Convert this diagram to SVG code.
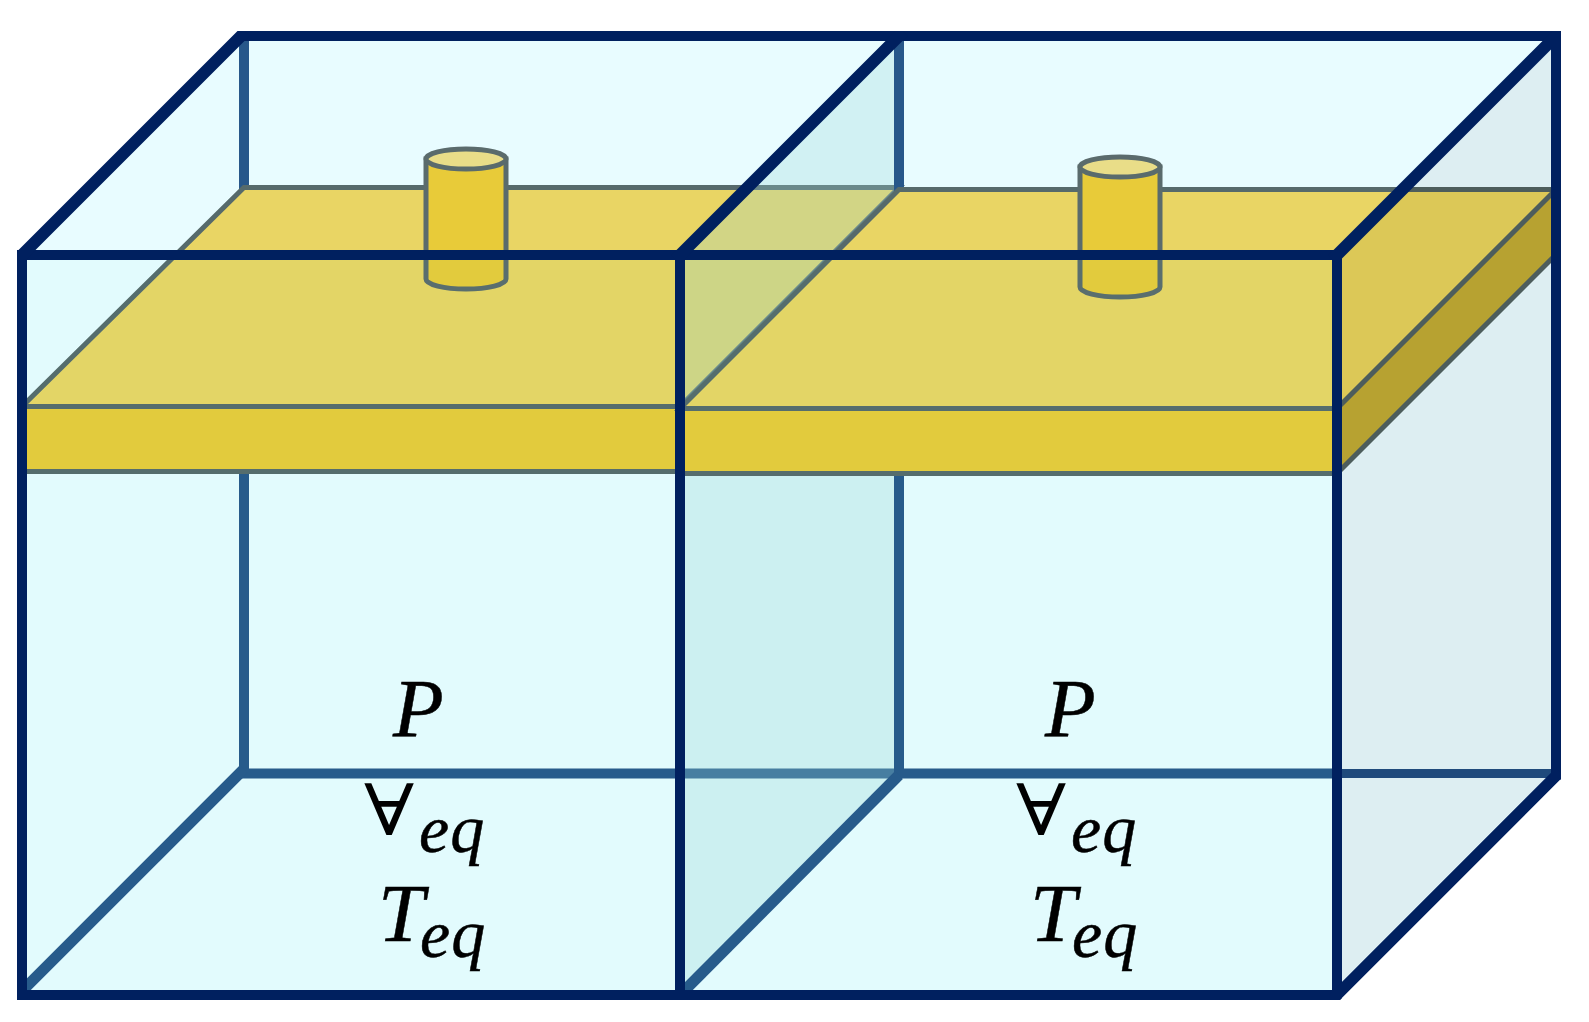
<svg xmlns="http://www.w3.org/2000/svg" width="1589" height="1022" viewBox="0 0 1589 1022">
<style>
.back{fill:none;stroke:#27578a;stroke-width:10;stroke-linejoin:miter}
.backd{fill:none;stroke:#27578a;stroke-width:11}
.frame{fill:none;stroke:#00205f;stroke-width:10;stroke-linejoin:miter}
.diag{fill:none;stroke:#00205f;stroke-width:12;stroke-linecap:square}
.plate{stroke:#566a6b;stroke-width:5;stroke-linejoin:miter}
.top{fill:#e9d564}
.front{fill:#e8cb39}
.cyl{fill:#e8cb39;stroke:#5a6b6c;stroke-width:5}
.cap{fill:#e9dd88;stroke:#5a6b6c;stroke-width:5}
text{fill:#000;stroke:#000;stroke-width:.5;font-family:"Liberation Serif","DejaVu Serif",serif}
.i{font-style:italic}
.m{font-size:83px}
.s{font-size:68px;letter-spacing:1px}
.u{font-size:71px;stroke-width:0}
</style>
<defs>
<clipPath id="tank"><polygon points="22,255 241,36 1556,36 1556,776 1337,995 22,995"/></clipPath>
<clipPath id="outer"><polygon points="17,250 236,31 1561,31 1561,779 1340,1000 17,1000"/></clipPath>
</defs>
<rect width="1589" height="1022" fill="#fff"/>
<g id="tank-fill">
<polygon points="22,255 241,36 1556,36 1556,776 1337,995 22,995" fill="#e8fcff"/>
</g>
<g id="connectors">
<path class="back" d="M244 36V773.5H1556"/>
<path class="backd" clip-path="url(#tank)" d="M244 769L18 995"/>
</g>
<g id="plate-left" clip-path="url(#tank)">
<polygon class="plate top" points="244,187.5 899,187.5 680,406.5 22,406.5"/>
<rect class="plate front" x="22" y="406.5" width="658" height="65"/>
</g>
<g id="cylinder-left">
<path class="cyl" d="M426 159V279A40 10 0 0 0 506 279V159Z"/>
<ellipse class="cap" cx="466" cy="159" rx="40" ry="10"/>
</g>
<g id="partition">
<polygon points="680,255 899,36 899,773.5 680,995" fill="rgb(154,213,215)" fill-opacity=".29"/>
<path class="back" d="M899 36V778"/>
<path class="backd" d="M899 775L680 995"/>
</g>
<g id="plate-right" clip-path="url(#tank)">
<polygon class="plate top" points="899,189.5 1556,189.5 1337,408.5 680,408.5"/>
<rect class="plate front" x="680" y="408.5" width="657" height="65"/>
<polygon points="1337,408.5 1556,189.5 1556,254.5 1337,473.5" fill="#b7a231"/>
</g>
<g id="cylinder-right">
<path class="cyl" d="M1080 167V287A40 10 0 0 0 1160 287V167Z"/>
<ellipse class="cap" cx="1120" cy="167" rx="40" ry="10"/>
</g>
<g id="side-panel">
<polygon points="1337,255 1556,36 1556,189.5 1402.5,189.5" fill="#ddeef2"/>
<polygon points="1337,473.5 1556,254.5 1556,776 1337,995" fill="#ddeef2"/>
<path d="M1556 773.5H1337" stroke="#1f4a7c" stroke-width="9" fill="none"/>
<polygon points="1337,255 1402.5,189.5 1556,189.5 1337,408.5" fill="#dcc857"/>
<path d="M1402.5 189.5H1556L1337 408.5M1556 254.5L1337 473.5" fill="none" stroke="#4d5d5c" stroke-width="5" clip-path="url(#tank)"/>
</g>
<g id="front-pane">
<rect x="22" y="255" width="1315" height="740" fill="rgb(50,220,200)" fill-opacity=".03"/>
</g>
<g id="frame" clip-path="url(#outer)">
<path class="frame" d="M22 255H1337V995H22ZM244 36H1556V780M680 255V995"/>
<path class="diag" style="stroke-width:11.5" d="M1556 776L1337 995"/>
<path class="diag" d="M22 255L241 36M680 255L899 36M1337 255L1556 36"/>
</g>
<g id="labels-left">
<text class="i m" x="393" y="736">P</text>
<text class="u" transform="translate(364 835) scale(1.17 1)">∀</text>
<text class="i s" x="419" y="852">eq</text>
<text class="i m" x="378" y="941">T</text>
<text class="i s" x="420" y="957">eq</text>
</g>
<g id="labels-right">
<text class="i m" x="1045" y="736">P</text>
<text class="u" transform="translate(1016 835) scale(1.17 1)">∀</text>
<text class="i s" x="1071" y="852">eq</text>
<text class="i m" x="1030" y="941">T</text>
<text class="i s" x="1072" y="957">eq</text>
</g>
</svg>
